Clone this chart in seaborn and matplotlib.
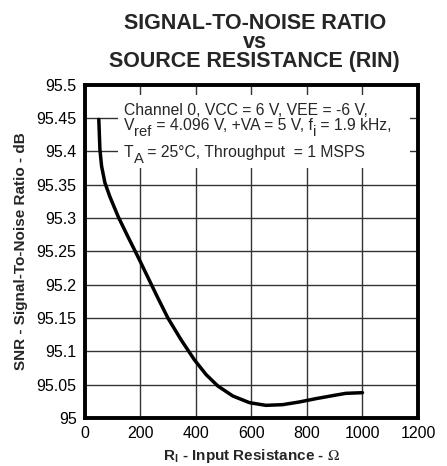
import matplotlib
matplotlib.use("Agg")
import matplotlib.pyplot as plt
import matplotlib.transforms as mtransforms
import seaborn as sns
import pandas as pd
from matplotlib.patches import Rectangle

# Curve
resistance = [50, 54, 60, 72, 90, 120, 155, 191, 227, 263, 299, 347, 395,
              437, 479, 533, 593, 652, 712, 772, 832, 892, 940, 1000]
snr = [95.448, 95.403, 95.378, 95.353, 95.332, 95.302, 95.272, 95.242,
       95.211, 95.180, 95.150, 95.117, 95.087, 95.065, 95.048, 95.033,
       95.023, 95.019, 95.020, 95.024, 95.029, 95.0335, 95.037, 95.038]

x_ticks = [0, 200, 400, 600, 800, 1000, 1200]
y_ticks = [95, 95.05, 95.1, 95.15, 95.2, 95.25, 95.3, 95.35, 95.4, 95.45, 95.5]
y_labels = ["95", "95.05", "95.1", "95.15", "95.2", "95.25", "95.3", "95.35",
            "95.4", "95.45", "95.5"]

# test conditions, as (text, is_subscript) runs per line
notes = [
    [("Channel 0, VCC = 6 V, VEE = -6 V,", False)],
    [("V", False), ("ref", True), (" = 4.096 V, +VA = 5 V, f", False),
     ("i", True), (" = 1.9 kHz,", False)],
    [("T", False), ("A", True), (" = 25°C, Throughput  = 1 MSPS", False)],
]

df = pd.DataFrame({"resistance": resistance, "snr": snr})

sns.set_theme(style="white")
plt.rcParams["font.family"] = ["Liberation Sans", "DejaVu Sans"]
plt.rcParams["mathtext.fontset"] = "stix"

fig = plt.figure(figsize=(4.47, 4.66), dpi=100)
ax = fig.add_axes([0.190, 0.103, 0.745, 0.715])

sns.lineplot(data=df, x="resistance", y="snr", ax=ax, color="black",
             linewidth=2.5, zorder=4)

ax.set_xlim(0, 1200)
ax.set_ylim(95, 95.5)
ax.set_xticks(x_ticks)
ax.set_yticks(y_ticks)
ax.set_yticklabels(y_labels)
ax.tick_params(axis="both", labelsize=11.5, colors="black", length=0, pad=6)

# Grid
ax.grid(True, color="#333333", linewidth=1.0)
ax.set_axisbelow(True)
for spine in ax.spines.values():
    spine.set_color("black")
    spine.set_linewidth(2.8)
    spine.set_zorder(5)

# White box behind the test conditions
ax.add_patch(Rectangle((0.099, 0.751), 0.877, 0.219, transform=ax.transAxes,
                       facecolor="white", edgecolor="none", zorder=2))

renderer = fig.canvas.get_renderer()
for runs, yy in zip(notes, [0.910, 0.865, 0.784]):
    dx = 0.0
    for txt, sub in runs:
        trans = mtransforms.offset_copy(ax.transAxes, fig=fig, x=dx,
                                        y=-6 if sub else 0, units="dots")
        t = ax.text(0.117, yy, txt, transform=trans,
                    fontsize=10.6 if sub else 11.3,
                    ha="left", va="baseline", zorder=3)
        dx += t.get_window_extent(renderer).width

ax.set_xlabel(r"R$_\mathregular{I}$ - Input Resistance - $\Omega$", fontsize=11,
              fontweight="bold", labelpad=4)
ax.set_ylabel("SNR - Signal-To-Noise Ratio - dB", fontsize=11,
              fontweight="bold", labelpad=6)

fig.text(0.570, 0.973, "SIGNAL-TO-NOISE RATIO\nvs\nSOURCE RESISTANCE (RIN)",
         ha="center", va="top", fontsize=15.5, fontweight="bold",
         linespacing=0.89)

fig.savefig("out.png", dpi=100)
